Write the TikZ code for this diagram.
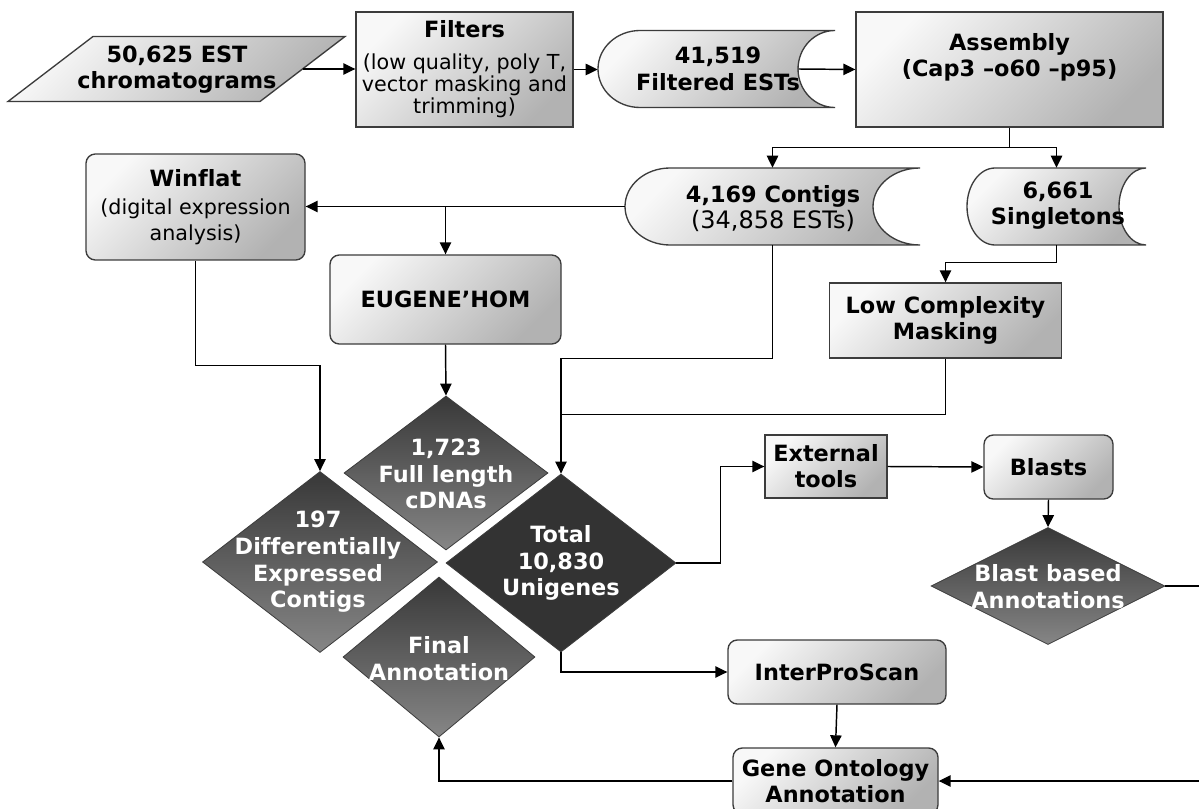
\documentclass[tikz,border=0pt]{standalone}
\usepackage{fontspec}
\setmainfont[Ligatures=NoCommon]{DejaVu Sans}
\usetikzlibrary{shapes.geometric,arrows.meta,calc}
\definecolor{edge}{HTML}{3C3C3C}
\definecolor{lite}{HTML}{F8F8F8}
\definecolor{dark}{HTML}{B2B2B2}
\definecolor{dtop}{HTML}{383838}
\definecolor{dbot}{HTML}{868686}
\definecolor{dtot}{HTML}{333333}
\newcommand\bt{\fontsize{16.8pt}{19.5pt}\selectfont\bfseries}
\newcommand\rt{\fontsize{15.5pt}{16pt}\selectfont}
\newcommand\storedshape[6]{% L R T B d c
  \pgfmathsetmacro\sdM{(#3+#4)/2}\pgfmathsetmacro\sdH{(#4-#3)/2*0.552}%
  \draw[boxbase] ({#1+#5},#3) -- (#2,#3)
   .. controls ({#2-0.552*#6},#3) and ({#2-#6},{\sdM-\sdH}) .. ({#2-#6},\sdM)
   .. controls ({#2-#6},{\sdM+\sdH}) and ({#2-0.552*#6},#4) .. (#2,#4)
   -- ({#1+#5},#4)
   .. controls ({#1+#5-0.552*#5},#4) and (#1,{\sdM+\sdH}) .. (#1,\sdM)
   .. controls (#1,{\sdM-\sdH}) and ({#1+#5-0.552*#5},#3) .. ({#1+#5},#3) -- cycle;}
\begin{document}
\begin{tikzpicture}[x=0.75pt,y=-0.75pt,
  sz/.style 2 args={minimum width=#1*0.75pt, minimum height=#2*0.75pt},
  boxbase/.style={draw=edge, line width=1pt, top color=lite, bottom color=dark, shading angle=45},
  sqbox/.style={boxbase, inner sep=0pt, align=center, font=\bt},
  rbox/.style={sqbox, rounded corners=7pt},
  anchorbox/.style={draw=none, inner sep=0pt},
  dia/.style={diamond, draw=edge, line width=0.6pt, inner sep=0pt, top color=dtop, bottom color=dbot},
  dtxt/.style={text=white, font=\fontsize{16.8pt}{20pt}\selectfont\bfseries, align=center, inner sep=0pt},
  ktxt/.style={font=\bt, align=center, inner sep=0pt},
  arr/.style={draw=black, line width=1.1pt, -{Triangle[length=9pt,width=8.5pt]}},
  ln/.style={draw=black, line width=1.1pt},
]
\useasboundingbox (0,0) rectangle (1199,809);
\fill[white] (0,0) rectangle (1199,809);
\clip (0,0) rectangle (1199,809);

% ---- top row
\node[anchorbox, sz={337}{65}] (est) at (176.5,69) {};
\draw[boxbase] (93,36.5) -- (345,36.5) -- (260,101.5) -- (8,101.5) -- cycle;
\coordinate (estout) at (302.5,69);
\node[ktxt] (estt) at (177,70) {50,625 EST\\chromatograms};

\node[sqbox, sz={217}{115}, font=\rt] (filters) at (464.5,69.5)
  {{\bt Filters}\\[8pt](low quality, poly T,\\vector masking and\\[1pt]trimming)};

\node[anchorbox, sz={237}{77}] (filtered) at (716.5,69) {};
\storedshape{598}{835}{30.5}{107.5}{42}{37}
\node[ktxt] (filteredt) at (718,69) {41,519\\[1pt]Filtered ESTs};

\node[sqbox, sz={307}{115}] (assembly) at (1009.5,69.5) {};
\node[ktxt] (assemblyt) at (1009.5,57) {Assembly\\(Cap3 –o60 –p95)};

% ---- second row
\node[anchorbox, sz={295}{77}] (contigs) at (772.5,206.5) {};
\storedshape{625}{920}{168}{245}{45}{47}
\node[ktxt, font=\fontsize{18pt}{18pt}\selectfont] (contigst) at (773,208.5) {{\bt 4,169 Contigs}\\[2pt](34,858 ESTs)};

\node[anchorbox, sz={179}{77}] (singletons) at (1056.5,206.5) {};
\storedshape{967}{1146}{168}{245}{28}{27}
\node[ktxt] (singletonst) at (1058,206) {6,661\\Singletons};

\node[rbox, sz={219}{106}, font=\rt] (winflat) at (195.5,207)
  {{\bt Winflat}\\[5pt](digital expression\\[3.5pt]analysis)};

\node[rbox, sz={231}{89}] (eugene) at (445.5,299.5) {EUGENE’HOM};

\node[sqbox, sz={232}{75}] (lowc) at (945.5,320.5) {Low Complexity\\Masking};

% ---- diamonds
\node[dia, sz={235}{181}] (diff) at (320,562) {};
\node[dtxt] (difft) at (318,562) {197\\Differentially\\Expressed\\Contigs};
\node[dia, sz={204}{154}] (fulllen) at (446,473) {};
\node[dtxt] (fulllent) at (446,474) {1,723\\Full length\\cDNAs};
\node[dia, sz={230}{178}, top color=dtot, bottom color=dtot] (total) at (561,563) {};
\node[dtxt] (totalt) at (561,563) {Total\\10,830\\Unigenes};
\node[dia, sz={192}{160}] (final) at (439,657) {};
\node[dtxt] (finalt) at (439,658.5) {Final\\Annotation};

% ---- right part
\node[sqbox, sz={122}{63}] (ext) at (826,466.5) {External\\tools};
\node[rbox, sz={129}{64}] (blasts) at (1048.5,467) {Blasts};
\node[dia, sz={234}{117}] (blastann) at (1048,586) {};
\node[dtxt] (blastannt) at (1048,586.5) {Blast based\\Annotations};
\node[rbox, sz={218}{64}] (ips) at (837,672) {InterProScan};
\node[rbox, sz={205}{66}] (go) at (835.5,781) {Gene Ontology\\Annotation};

% ---- connectors
\draw[arr] (estout) -- (estout -| filters.west);
\draw[arr] (filters.east) -- (filters.east -| filtered.west);
\draw[arr] ($(filtered.east)+(-37,0)$) -- (assembly.west);
\draw[arr] (assembly.south) -- ++(0,20) -| (contigs.north);
\draw[arr] (assembly.south) -- ++(0,20) -| (singletons.north);
\draw[arr] (contigs.west) -- (contigs.west -| winflat.east);
\draw[arr] (eugene.north |- contigs.west) -- (eugene.north);
\draw[arr] (winflat.south) -- ++(0,105) -| (diff.north);
\draw[arr] (eugene.south) -- (fulllen.north);
\draw[arr] (contigs.south) -- ++(0,113) -| (total.north);
\draw[arr] (singletons.south) -- ++(0,17) -| (lowc.north);
\draw[ln] (lowc.south) |- ($(total.north)+(0,-59)$);
\draw[arr] (total.east) -- ++(44,0) |- (ext.west);
\draw[arr] (ext.east) -- (blasts.west);
\draw[arr] (blasts.south) -- (blastann.north);
\draw[arr] (blastann.east) -- ++(45,0) |- (go.east);
\draw[arr] (total.south) |- (ips.west);
\draw[arr] (ips.south) -- (go.north);
\draw[arr] (go.west) -| (final.south);
\end{tikzpicture}
\end{document}
